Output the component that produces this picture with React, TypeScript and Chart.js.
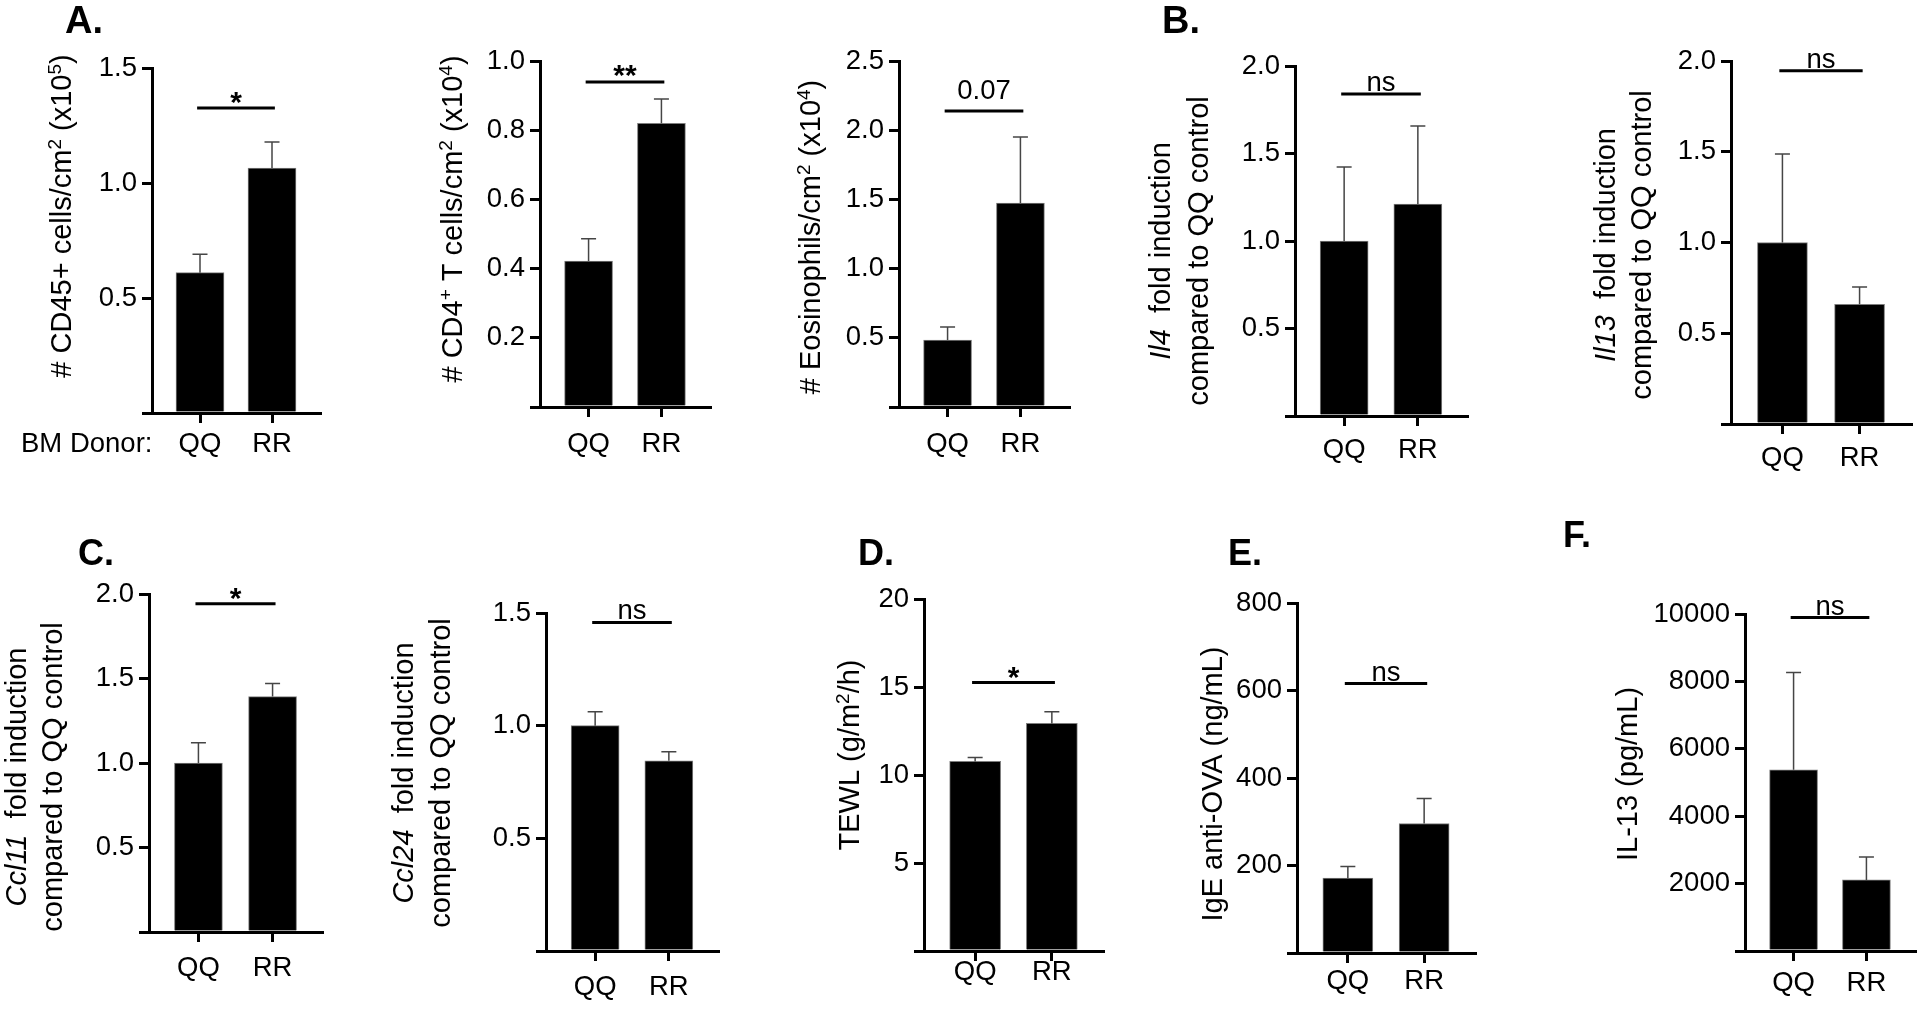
import React, { useEffect, useRef } from 'react';
import { Chart, registerables } from 'chart.js';

Chart.register(...registerables);

const FONT = '"Liberation Sans", Arial, Helvetica, sans-serif';

// ---------- data ----------
const CATEGORIES = ['QQ', 'RR'];
const BM_DONOR_LABEL = 'BM Donor:';

// A
const CD45_MEAN = [0.61, 1.065];
const CD45_SEM = [0.08, 0.113];
const CD4_MEAN = [0.422, 0.82];
const CD4_SEM = [0.064, 0.07];
const EOS_MEAN = [0.484, 1.474];
const EOS_SEM = [0.094, 0.476];
// B
const IL4_MEAN = [1.0, 1.211];
const IL4_SEM = [0.423, 0.446];
const IL13_MEAN = [1.0, 0.66];
const IL13_SEM = [0.488, 0.095];
// C
const CCL11_MEAN = [1.0, 1.393];
const CCL11_SEM = [0.12, 0.077];
const CCL24_MEAN = [1.0, 0.844];
const CCL24_SEM = [0.062, 0.04];
// D
const TEWL_MEAN = [10.77, 12.93];
const TEWL_SEM = [0.23, 0.67];
// E
const IGE_MEAN = [171, 296];
const IGE_SEM = [27, 57];
// F
const IL13P_MEAN = [5379, 2110];
const IL13P_SEM = [2883, 683];

const MEANS = [CD45_MEAN, CD4_MEAN, EOS_MEAN, IL4_MEAN, IL13_MEAN, CCL11_MEAN, CCL24_MEAN, TEWL_MEAN, IGE_MEAN, IL13P_MEAN];
const SEMS = [CD45_SEM, CD4_SEM, EOS_SEM, IL4_SEM, IL13_SEM, CCL11_SEM, CCL24_SEM, TEWL_SEM, IGE_SEM, IL13P_SEM];

// "_x_" = italic, "^c" = superscript character
const Y_TITLES = [
  ['# CD45+ cells/cm^2 (x10^5)'],
  ['# CD4^+ T cells/cm^2 (x10^4)'],
  ['# Eosinophils/cm^2 (x10^4)'],
  ['_Il4_  fold induction', 'compared to QQ control'],
  ['_Il13_  fold induction', 'compared to QQ control'],
  ['_Ccl11_  fold induction', 'compared to QQ control'],
  ['_Ccl24_  fold induction', 'compared to QQ control'],
  ['TEWL (g/m^2/h)'],
  ['IgE anti-OVA (ng/mL)'],
  ['IL-13 (pg/mL)'],
];
const Y_MAX = [1.5, 1.0, 2.5, 2.0, 2.0, 2.0, 1.5, 20, 800, 10000];
const Y_STEP = [0.5, 0.2, 0.5, 0.5, 0.5, 0.5, 0.5, 5, 200, 2000];
const Y_DECIMALS = [1, 1, 1, 1, 1, 1, 1, 0, 0, 0];
const SIG_LABELS = ['*', '**', '0.07', 'ns', 'ns', '*', 'ns', '*', 'ns', 'ns'];
const SIG_Y = [1.326, 0.939, 2.139, 1.84, 1.946, 1.942, 1.458, 15.25, 616, 9896];
const PANEL_LETTERS = ['A.', '', '', 'B.', '', 'C.', '', 'D.', 'E.', 'F.'];

// ---------- layout (page pixels) ----------
const Y_AXIS_W = 110;
const X_AXIS_H = 60;
const SIG_OVERHANG = 0.04;
const ROWS = [
  { y0: 0, y1: 490 },
  { y0: 490, y1: 1019 },
];
type Lay = {
  row: number; x0: number; x1: number;
  left: number; right: number; top: number; bottom: number;
  bar: number; titleX: number[]; titleY: number; xPad: number; sigDy: number;
  letter?: { x: number; y: number; size: number };
  note?: { x: number };
};
const LAYOUT: Lay[] = [
  { row: 0, x0: 0, x1: 330, left: 152, right: 320, top: 68, bottom: 413, bar: 48, titleX: [71], titleY: 216, xPad: 5, sigDy: 4, letter: { x: 65, y: 33, size: 38 }, note: { x: 21 } },
  { row: 0, x0: 330, x1: 760, left: 540, right: 710, top: 61, bottom: 407, bar: 48, titleX: [462], titleY: 219, xPad: 11, sigDy: 3 },
  { row: 0, x0: 760, x1: 1080, left: 899, right: 1069, top: 61, bottom: 407, bar: 48, titleX: [820], titleY: 237, xPad: 11, sigDy: -12 },
  { row: 0, x0: 1080, x1: 1500, left: 1295, right: 1467, top: 66, bottom: 416, bar: 48, titleX: [1170, 1208], titleY: 251, xPad: 8, sigDy: -3, letter: { x: 1162, y: 33, size: 38 } },
  { row: 0, x0: 1500, x1: 1920, left: 1731, right: 1911, top: 61, bottom: 424, bar: 50, titleX: [1615, 1651], titleY: 245, xPad: 8, sigDy: -3 },
  { row: 1, x0: 0, x1: 330, left: 149, right: 322, top: 594, bottom: 932, bar: 48, titleX: [26, 62], titleY: 777, xPad: 10, sigDy: 4, letter: { x: 78, y: 565, size: 36 } },
  { row: 1, x0: 330, x1: 780, left: 546, right: 718, top: 613, bottom: 951, bar: 48, titleX: [413, 450], titleY: 773, xPad: 10, sigDy: -3 },
  { row: 1, x0: 780, x1: 1160, left: 924, right: 1103, top: 599, bottom: 951, bar: 51, titleX: [859], titleY: 755, xPad: -5, sigDy: 4, letter: { x: 858, y: 565, size: 36 } },
  { row: 1, x0: 1160, x1: 1530, left: 1297, right: 1475, top: 603, bottom: 953, bar: 50, titleX: [1222], titleY: 784, xPad: 2, sigDy: -3, letter: { x: 1228, y: 565, size: 36 } },
  { row: 1, x0: 1530, x1: 1920, left: 1745, right: 1915, top: 614, bottom: 951, bar: 48, titleX: [1637], titleY: 774, xPad: 6, sigDy: -3, letter: { x: 1563, y: 547, size: 36 } },
];

const TICK_FONT_SIZE = 27.5;
const TITLE_FONT_SIZE = 29;

type Seg = { t: string; it: boolean; sup: boolean };
function parseRich(s: string): Seg[] {
  const out: Seg[] = [];
  const re = /_([^_]+)_|\^(.)/g;
  let last = 0;
  let m: RegExpExecArray | null;
  while ((m = re.exec(s))) {
    if (m.index > last) out.push({ t: s.slice(last, m.index), it: false, sup: false });
    if (m[1] !== undefined) out.push({ t: m[1], it: true, sup: false });
    else out.push({ t: m[2], it: false, sup: true });
    last = re.lastIndex;
  }
  if (last < s.length) out.push({ t: s.slice(last), it: false, sup: false });
  return out;
}

function drawRotatedRich(ctx: CanvasRenderingContext2D, s: string, bx: number, cy: number, size: number) {
  const segs = parseRich(s);
  const fontOf = (g: Seg) => `${g.it ? 'italic ' : ''}${g.sup ? Math.round(size * 0.64) : size}px ${FONT}`;
  let total = 0;
  const widths = segs.map((g) => {
    ctx.font = fontOf(g);
    const w = ctx.measureText(g.t).width;
    total += w;
    return w;
  });
  ctx.save();
  ctx.translate(bx, cy);
  ctx.rotate(-Math.PI / 2);
  ctx.textAlign = 'left';
  ctx.textBaseline = 'alphabetic';
  ctx.fillStyle = '#000';
  let x = -total / 2;
  segs.forEach((g, k) => {
    ctx.font = fontOf(g);
    ctx.fillText(g.t, x, g.sup ? -size * 0.36 : 0);
    x += widths[k];
  });
  ctx.restore();
}

function buildConfig(i: number): any {
  const L = LAYOUT[i];
  const row = ROWS[L.row];
  const ox = L.x0;
  const oy = row.y0;

  const decor = {
    id: 'decor' + i,
    afterDraw(chart: any) {
      const ctx: CanvasRenderingContext2D = chart.ctx;
      const xs = chart.scales.x;
      const ys = chart.scales.y;
      ctx.save();
      // error bars (upper)
      ctx.strokeStyle = '#454545';
      ctx.lineWidth = 1.5;
      MEANS[i].forEach((m, k) => {
        const x = xs.getPixelForValue(k + 1);
        const y0 = ys.getPixelForValue(m);
        const y1 = ys.getPixelForValue(m + SEMS[i][k]);
        ctx.beginPath();
        ctx.moveTo(x, y0);
        ctx.lineTo(x, y1);
        ctx.moveTo(x - 7.5, y1);
        ctx.lineTo(x + 7.5, y1);
        ctx.stroke();
      });
      // significance bar
      const sy = ys.getPixelForValue(SIG_Y[i]);
      const xa = xs.getPixelForValue(1 - SIG_OVERHANG);
      const xb = xs.getPixelForValue(CATEGORIES.length + SIG_OVERHANG);
      ctx.strokeStyle = '#000';
      ctx.lineWidth = 3;
      ctx.beginPath();
      ctx.moveTo(xa, sy);
      ctx.lineTo(xb, sy);
      ctx.stroke();
      const lab = SIG_LABELS[i];
      const isStar = /^\*+$/.test(lab);
      ctx.fillStyle = '#000';
      ctx.font = isStar ? `bold 30px ${FONT}` : `${TICK_FONT_SIZE}px ${FONT}`;
      ctx.textAlign = 'center';
      ctx.textBaseline = 'alphabetic';
      ctx.fillText(lab, (xa + xb) / 2, sy + L.sigDy);
      // y-axis title
      Y_TITLES[i].forEach((line, k) => {
        drawRotatedRich(ctx, line, L.titleX[k] - ox, L.titleY - oy, TITLE_FONT_SIZE);
      });
      // panel letter
      if (L.letter && PANEL_LETTERS[i]) {
        ctx.font = `bold ${L.letter.size}px ${FONT}`;
        ctx.textAlign = 'left';
        ctx.textBaseline = 'alphabetic';
        ctx.fillText(PANEL_LETTERS[i], L.letter.x - ox, L.letter.y - oy);
      }
      // "BM Donor:" row label
      if (L.note) {
        ctx.font = `${TICK_FONT_SIZE}px ${FONT}`;
        ctx.textAlign = 'left';
        ctx.textBaseline = 'middle';
        const ly = xs.top + 10 + L.xPad + (TICK_FONT_SIZE * 1.2) / 2;
        ctx.fillText(BM_DONOR_LABEL, L.note.x - ox, ly);
      }
      ctx.restore();
    },
  };

  const axisCommon = {
    grid: {
      display: true,
      drawOnChartArea: false,
      drawTicks: true,
      tickLength: 10,
      tickWidth: 3,
      lineWidth: 3,
      color: '#000',
      tickColor: '#000',
      offset: false,
    },
    border: { display: true, width: 3, color: '#000' },
  };

  return {
    type: 'bar',
    data: {
      datasets: [
        {
          data: CATEGORIES.map((c, k) => ({ x: k + 1, y: MEANS[i][k] })),
          backgroundColor: '#000',
          borderColor: '#7d7d7d',
          borderWidth: 1,
          borderSkipped: 'start',
          barThickness: L.bar,
        },
      ],
    },
    options: {
      responsive: false,
      maintainAspectRatio: false,
      animation: false,
      events: [],
      layout: {
        padding: {
          left: L.left - ox - Y_AXIS_W,
          right: L.x1 - L.right,
          top: L.top - oy,
          bottom: row.y1 - L.bottom - X_AXIS_H,
        },
      },
      plugins: {
        legend: { display: false },
        tooltip: { enabled: false },
        title: { display: false },
      },
      scales: {
        x: {
          type: 'linear',
          offset: false,
          min: 1 / 3,
          max: CATEGORIES.length + 2 / 3,
          afterBuildTicks: (s: any) => {
            s.ticks = CATEGORIES.map((_, k) => ({ value: k + 1 }));
          },
          afterFit: (s: any) => {
            s.height = X_AXIS_H;
          },
          ticks: {
            autoSkip: false,
            maxRotation: 0,
            minRotation: 0,
            padding: L.xPad,
            color: '#000',
            font: { family: FONT, size: TICK_FONT_SIZE },
            callback: (v: any) => CATEGORIES[Math.round(Number(v)) - 1] ?? '',
          },
          ...axisCommon,
        },
        y: {
          type: 'linear',
          min: 0,
          max: Y_MAX[i],
          afterFit: (s: any) => {
            s.width = Y_AXIS_W;
          },
          ticks: {
            stepSize: Y_STEP[i],
            autoSkip: false,
            padding: 5,
            color: '#000',
            font: { family: FONT, size: TICK_FONT_SIZE },
            callback: (v: any) => (Math.abs(Number(v)) < 1e-9 ? '' : Number(v).toFixed(Y_DECIMALS[i])),
          },
          ...axisCommon,
        },
      },
    },
    plugins: [decor],
  };
}

function PanelChart({ index }: { index: number }) {
  const ref = useRef<HTMLCanvasElement>(null);
  const L = LAYOUT[index];
  const row = ROWS[L.row];
  const w = L.x1 - L.x0;
  const h = row.y1 - row.y0;
  useEffect(() => {
    const canvas = ref.current;
    if (!canvas) return;
    const chart = new Chart(canvas, buildConfig(index));
    return () => chart.destroy();
  }, [index]);
  return (
    <canvas
      ref={ref}
      width={w}
      height={h}
      style={{ position: 'absolute', left: L.x0, top: row.y0, width: w, height: h, display: 'block' }}
    />
  );
}

export default function App() {
  return (
    <div
      style={{
        position: 'fixed',
        left: 0,
        top: 0,
        width: 1920,
        height: 1019,
        background: '#fff',
        overflow: 'hidden',
      }}
    >
      {LAYOUT.map((_, i) => (
        <PanelChart key={i} index={i} />
      ))}
    </div>
  );
}
